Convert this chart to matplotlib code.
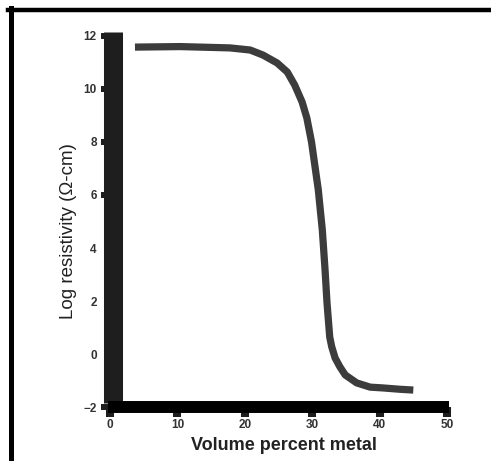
import matplotlib
matplotlib.use("Agg")
import matplotlib.pyplot as plt
from matplotlib.lines import Line2D

# volume percent metal vs log resistivity
vol_pct = [3.7, 10.4, 17.8, 20.8, 22.7, 24.8, 26.3, 27.4, 28.5, 29.2,
           29.9, 30.9, 31.5, 31.9, 32.2, 32.6, 32.9, 33.4, 34.1, 34.9,
           36.6, 38.6, 40.5, 43.0, 45.0]
log_rho = [11.58, 11.6, 11.55, 11.47, 11.28, 10.98, 10.64, 10.15, 9.51, 8.91,
           8.0, 6.2, 4.68, 3.2, 1.92, 0.64, 0.27, -0.15, -0.48, -0.79,
           -1.09, -1.25, -1.28, -1.33, -1.36]

x_ticks = [0, 10, 20, 30, 40, 50]
y_ticks = [-2, 0, 2, 4, 6, 8, 10, 12]
hidden_y_ticks = [0, 2, 4]

plt.rcParams['font.family'] = ['Liberation Sans', 'DejaVu Sans']

fig = plt.figure(figsize=(4.91, 4.61), dpi=100)
ax = fig.add_axes([0.2035, 0.0941, 0.7206, 0.8451])

ax.plot(vol_pct, log_rho, color='#3c3c3c', linewidth=5.2,
        solid_capstyle='butt', solid_joinstyle='round')

ax.set_xlim(-1.5, 51)
ax.set_ylim(-2.4, 12.3)

for s in ['top', 'right']:
    ax.spines[s].set_visible(False)

ax.spines['left'].set_position(('data', 0.37))
ax.spines['left'].set_bounds(-1.85, 12.15)
ax.spines['left'].set_linewidth(13.7)
ax.spines['left'].set_color('#1e1e1e')
ax.spines['left'].set_capstyle('butt')

ax.spines['bottom'].set_position(('data', -2.0))
ax.spines['bottom'].set_bounds(-0.3, 50.3)
ax.spines['bottom'].set_linewidth(8.6)
ax.spines['bottom'].set_color('black')
ax.spines['bottom'].set_capstyle('butt')

ax.set_xticks(x_ticks)
ax.set_yticks(y_ticks)
ax.tick_params(axis='x', direction='out', length=7.2, width=5.8,
               color='#1e1e1e', pad=1.5, labelsize=8.5, labelcolor='#333333')
ax.tick_params(axis='y', direction='out', length=8.3, width=4.3,
               color='#1e1e1e', pad=3, labelsize=8.5, labelcolor='#333333')
for lab in ax.get_xticklabels() + ax.get_yticklabels():
    lab.set_fontweight('bold')
for t, tick in zip(y_ticks, ax.yaxis.get_major_ticks()):
    if t in hidden_y_ticks:
        tick.tick1line.set_visible(False)

ax.set_xlabel('Volume percent metal', fontsize=13, fontweight='bold',
              color='#222222', labelpad=4)
ax.xaxis.label.set_x(0.52)
ax.set_ylabel('Log resistivity (\u03a9-cm)', fontsize=13.5,
              color='#222222', labelpad=5)
ax.yaxis.label.set_y(0.48)

# scanned page frame
fig.add_artist(Line2D([8 / 491, 1.0], [1 - 10 / 461, 1 - 10 / 461],
                      transform=fig.transFigure, color='black', linewidth=3.2))
fig.add_artist(Line2D([10.5 / 491, 10.5 / 491], [0, 1 - 8 / 461],
                      transform=fig.transFigure, color='black', linewidth=3.6))

fig.savefig('out.png', dpi=100)
